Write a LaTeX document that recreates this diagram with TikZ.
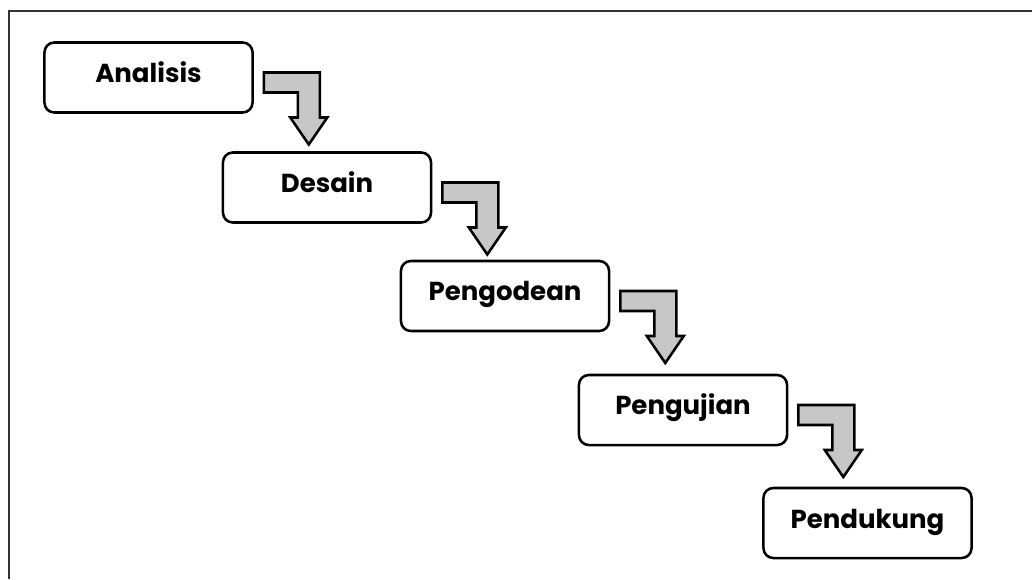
\documentclass[tikz,border=0pt]{standalone}
\usepackage{fontspec}
\setmainfont{Poppins}

\tikzset{
  stage/.style={draw, line width=1.8pt, rounded corners=7pt, fill=white,
    minimum width=5.2cm, minimum height=1.75cm, inner sep=0pt,
    text height=14pt, text depth=6.9pt,
    font=\fontsize{18.5}{22}\selectfont\bfseries},
  steparrow/.style={draw, line width=1.8pt, fill=black!22, line join=miter},
}

\begin{document}
\begin{tikzpicture}[x=0.025cm, y=-0.025cm]
  \useasboundingbox (0,0) rectangle (1032,579);
  % frame
  \draw[line width=1.8pt, black!80] (9,579) -- (9,11) -- (1032,11);

  \node[stage] (ana) at (148.5,77.5) {Analisis};
  \node[stage] (des) at (327,187.5) {Desain};
  \node[stage] (kod) at (505,296) {Pengodean};
  \node[stage] (uji) at (683,410) {Pengujian};
  \node[stage] (duk) at (867.5,523) {Pendukung};

  % bent arrows between the stages
  \foreach \b in {ana,des,kod,uji}
    \draw[steparrow, shift={(\b.east)}] (10,-5) -- (66,-5) -- (66,40) -- (73.5,40)
      -- (55,67) -- (36.5,40) -- (44,40) -- (44,15) -- (10,15) -- cycle;
\end{tikzpicture}
\end{document}
